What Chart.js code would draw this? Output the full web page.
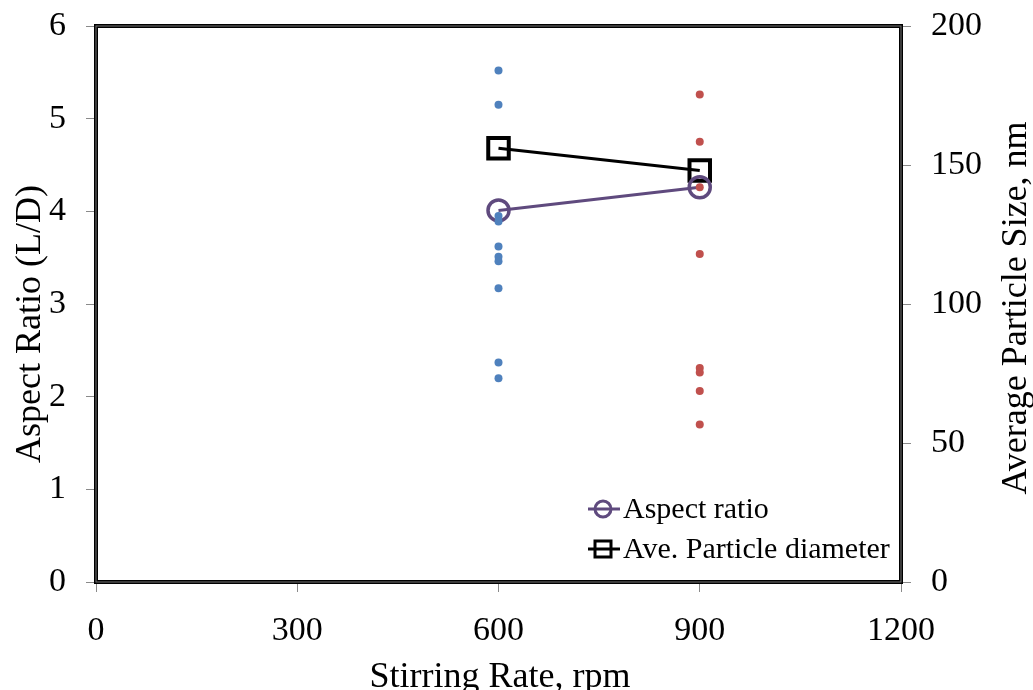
<!DOCTYPE html>
<html>
<head>
<meta charset="utf-8">
<title>Stirring rate vs aspect ratio</title>
<script src="https://cdn.jsdelivr.net/npm/chart.js@4.4.1/dist/chart.umd.min.js"></script>
<style>
    html, body { margin: 0; padding: 0; background: #fff; }
    #wrap { width: 1033px; height: 690px; position: relative; }
</style>
</head>
<body>
<div id="wrap"><canvas id="chart"></canvas></div>
<script>
"use strict";

// averages per stirring rate
const stirringRates = [600, 900];
const aspectRatioMean = [4.01, 4.26];
const particleSizeMean = [156, 148];

// individual aspect ratio measurements
const aspectRatioAt600 = [5.52, 5.15, 3.95, 3.89, 3.62, 3.51, 3.46, 3.17, 2.37, 2.20];
const aspectRatioAt900 = [5.26, 4.75, 4.26, 3.54, 2.31, 2.26, 2.06, 1.70];

const legendLabels = ['Aspect ratio', 'Ave. Particle diameter'];

const SERIF = '"Liberation Serif", "Times New Roman", serif';
const PURPLE = '#5F4A7E';
const BLUE = '#4F81BD';
const RED = '#C0504D';
const TICK_GRAY = '#8a8a8a';

/* turns a list of measurements at one rate into scatter points. */
const toPoints = (rate, values) => values.map(v => ({ x: rate, y: v }));

/* pins the axis box sizes so the plot frame lands where we want it,
   and drops the extra room chart.js keeps for the end tick labels. */
const fixSize = (prop, px) => (scale) => {
    scale[prop] = px;
    scale.paddingTop = 0;
    scale.paddingBottom = 0;
    scale.paddingLeft = 0;
    scale.paddingRight = 0;
};

/* plain numbers, no thousands separator. */
const plainTick = (value) => String(value);

/* frame around the plot area: black with a grey inner line. */
const framePlugin = {
    id: 'frame',
    afterDatasetsDraw(chart) {
        const { ctx, chartArea: a } = chart;
        ctx.save();
        ctx.strokeStyle = '#000';
        ctx.lineWidth = 4;
        ctx.strokeRect(a.left, a.top, a.right - a.left, a.bottom - a.top);
        ctx.strokeStyle = '#777';
        ctx.lineWidth = 1;
        ctx.strokeRect(a.left, a.top, a.right - a.left, a.bottom - a.top);
        ctx.restore();
    }
};

/* axis titles; the right one reads bottom to top like the left one. */
const titlesPlugin = {
    id: 'axisTitles',
    afterDraw(chart) {
        const ctx = chart.ctx;
        ctx.save();
        ctx.fillStyle = '#000';
        ctx.font = `36px ${SERIF}`;
        ctx.textAlign = 'center';
        ctx.textBaseline = 'alphabetic';

        ctx.fillText('Stirring Rate, rpm', 500, 687);

        ctx.save();
        ctx.translate(40, 324);
        ctx.rotate(-Math.PI / 2);
        ctx.fillText('Aspect Ratio (L/D)', 0, 0);
        ctx.restore();

        ctx.save();
        ctx.translate(1026, 308);
        ctx.rotate(-Math.PI / 2);
        ctx.fillText('Average Particle Size, nm', 0, 0);
        ctx.restore();

        ctx.restore();
    }
};

/* legend inside the plot, each entry a short line with its marker. */
const legendPlugin = {
    id: 'insideLegend',
    afterDraw(chart) {
        const ctx = chart.ctx;
        const rows = [
            { label: legendLabels[0], color: PURPLE, shape: 'circle', y: 509 },
            { label: legendLabels[1], color: '#000', shape: 'square', y: 549 },
        ];
        ctx.save();
        ctx.font = `30px ${SERIF}`;
        ctx.textBaseline = 'middle';
        rows.forEach(r => {
            ctx.strokeStyle = r.color;
            ctx.lineWidth = 3;
            ctx.beginPath();
            ctx.moveTo(588, r.y);
            ctx.lineTo(620, r.y);
            ctx.stroke();
            ctx.beginPath();
            if (r.shape === 'circle') {
                ctx.arc(603, r.y, 8, 0, Math.PI * 2);
            } else {
                ctx.rect(595, r.y - 8, 16, 16);
            }
            ctx.stroke();
            ctx.fillStyle = '#000';
            ctx.fillText(r.label, 623, r.y + 1);
        });
        ctx.restore();
    }
};

const tickFont = { family: SERIF, size: 34 };
const gridOpts = {
    drawOnChartArea: false,
    drawTicks: true,
    tickLength: 10,
    color: TICK_GRAY,
    lineWidth: 1,
};

const ctx = document.getElementById('chart').getContext('2d');
const chart = new Chart(ctx, {
    data: {
        datasets: [
            {
                type: 'scatter',
                data: toPoints(stirringRates[0], aspectRatioAt600),
                yAxisID: 'y',
                backgroundColor: BLUE,
                borderColor: BLUE,
                pointRadius: 4,
                borderWidth: 0,
            },
            {
                type: 'scatter',
                data: toPoints(stirringRates[1], aspectRatioAt900),
                yAxisID: 'y',
                backgroundColor: RED,
                borderColor: RED,
                pointRadius: 4,
                borderWidth: 0,
            },
            {
                type: 'line',
                data: stirringRates.map((r, i) => ({ x: r, y: aspectRatioMean[i] })),
                yAxisID: 'y',
                borderColor: PURPLE,
                borderWidth: 3,
                pointStyle: 'circle',
                pointRadius: 10.5,
                pointBorderWidth: 3.5,
                pointBorderColor: PURPLE,
                pointBackgroundColor: 'rgba(0,0,0,0)',
                fill: false,
                tension: 0,
            },
            {
                type: 'line',
                data: stirringRates.map((r, i) => ({ x: r, y: particleSizeMean[i] })),
                yAxisID: 'y1',
                borderColor: '#000',
                borderWidth: 3,
                pointStyle: 'rect',
                pointRadius: 14.5,
                pointBorderWidth: 4,
                pointBorderColor: '#000',
                pointBackgroundColor: 'rgba(0,0,0,0)',
                fill: false,
                tension: 0,
            },
        ]
    },
    options: {
        responsive: true,
        maintainAspectRatio: false,
        animation: false,
        layout: { padding: { top: 26, left: 0, right: 0, bottom: 0 } },
        plugins: {
            legend: { display: false },
            tooltip: { enabled: false },
        },
        scales: {
            x: {
                type: 'linear',
                position: 'bottom',
                min: 0,
                max: 1200,
                afterFit: fixSize('height', 108),
                ticks: { stepSize: 300, color: '#000', font: tickFont, padding: 19, maxRotation: 0, autoSkip: false, callback: plainTick },
                grid: gridOpts,
                border: { display: false },
            },
            y: {
                type: 'linear',
                position: 'left',
                min: 0,
                max: 6,
                afterFit: fixSize('width', 96),
                ticks: { stepSize: 1, color: '#000', font: tickFont, padding: 20, callback: plainTick },
                grid: gridOpts,
                border: { display: false },
            },
            y1: {
                type: 'linear',
                position: 'right',
                min: 0,
                max: 200,
                afterFit: fixSize('width', 132),
                ticks: { stepSize: 50, color: '#000', font: tickFont, padding: 20, callback: plainTick },
                grid: gridOpts,
                border: { display: false },
            },
        }
    },
    plugins: [framePlugin, titlesPlugin, legendPlugin]
});
</script>
</body>
</html>
